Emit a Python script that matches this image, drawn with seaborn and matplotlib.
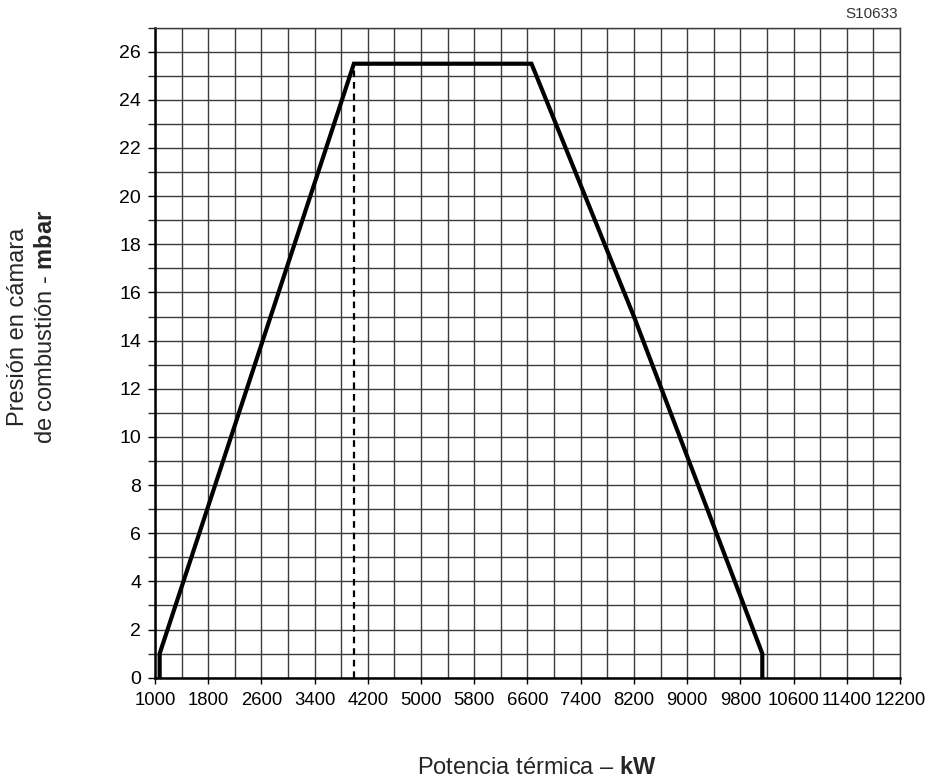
import numpy as np
import pandas as pd
import matplotlib
matplotlib.use("Agg")
import matplotlib.pyplot as plt
import seaborn as sns

# ---- data ----
curve_kw = [1070, 1070, 3990, 6660, 8200, 10130, 10130]
curve_mbar = [0, 1, 25.5, 25.5, 15, 1, 0]
dash_kw = [3990, 3990]
dash_mbar = [0, 25.5]
x_ticks = [1000, 1800, 2600, 3400, 4200, 5000, 5800, 6600, 7400, 8200,
           9000, 9800, 10600, 11400, 12200]
y_ticks = [0, 2, 4, 6, 8, 10, 12, 14, 16, 18, 20, 22, 24, 26]
x_minor_step = 400
y_minor_step = 1

sns.set_style("white")
plt.rcParams['font.family'] = ['Liberation Sans', 'DejaVu Sans']
plt.rcParams['mathtext.fontset'] = 'custom'
plt.rcParams['mathtext.rm'] = 'Liberation Sans'
plt.rcParams['mathtext.bf'] = 'Liberation Sans:bold'

fig = plt.figure(figsize=(9.29, 7.8), dpi=100)
ax = fig.add_axes([155/929, 1 - 677.7/780, (900-155)/929, (677.7-27.6)/780])

df_curve = pd.DataFrame({"kw": curve_kw, "mbar": curve_mbar})
df_dash = pd.DataFrame({"kw": dash_kw, "mbar": dash_mbar})

sns.lineplot(data=df_dash, x="kw", y="mbar", sort=False, estimator=None, ax=ax,
             color="black", linewidth=1.6, zorder=4)
ax.lines[-1].set_linestyle((0, (3.0, 2.2)))
sns.lineplot(data=df_curve, x="kw", y="mbar", sort=False, estimator=None, ax=ax,
             color="black", linewidth=3.0, zorder=5)
ax.lines[-1].set_solid_joinstyle('miter')

ax.set_xlim(1000, 12200)
ax.set_ylim(0, 27)
ax.set_xticks(x_ticks)
ax.set_xticklabels([str(t) for t in x_ticks])
ax.set_yticks(y_ticks)
ax.set_yticklabels([str(t) for t in y_ticks])
ax.set_xticks(np.arange(x_ticks[0], x_ticks[-1] + 1, x_minor_step), minor=True)
ax.set_yticks(np.arange(0, 27 + 0.5, y_minor_step), minor=True)

ax.grid(which='both', color='#3c3c3c', linewidth=1.0, zorder=1)
ax.set_axisbelow(True)

ax.tick_params(axis='y', which='major', labelsize=14, colors='black',
               direction='out')
ax.tick_params(axis='x', which='major', labelsize=13.3, colors='black',
               direction='out')
ax.tick_params(axis='y', which='both', length=5, width=1.0, left=True, pad=5)
ax.tick_params(axis='x', which='major', length=4, width=1.0, bottom=True, pad=6)
ax.tick_params(axis='x', which='minor', length=0)

for side in ['left', 'bottom']:
    ax.spines[side].set_linewidth(1.8)
    ax.spines[side].set_color('black')
for side in ['top', 'right']:
    ax.spines[side].set_linewidth(1.0)
    ax.spines[side].set_color('#3c3c3c')

ax.set_xlabel("")
ax.set_ylabel("")

fig.text(18/929, 1 - 327/780, "Presión en cámara", rotation=90,
         ha='center', va='center', fontsize=17)
fig.text(46/929, 1 - 327/780, r"de combustión - $\mathbf{mbar}$", rotation=90,
         ha='center', va='center', fontsize=17)
fig.text(537/929, 1 - 768/780, r"Potencia térmica – $\mathbf{kW}$",
         ha='center', va='center', fontsize=17)
fig.text(898/929, 1 - 14/780, "S10633", ha='right', va='center',
         fontsize=11, color='#333333')

fig.savefig("out.png", dpi=100)
